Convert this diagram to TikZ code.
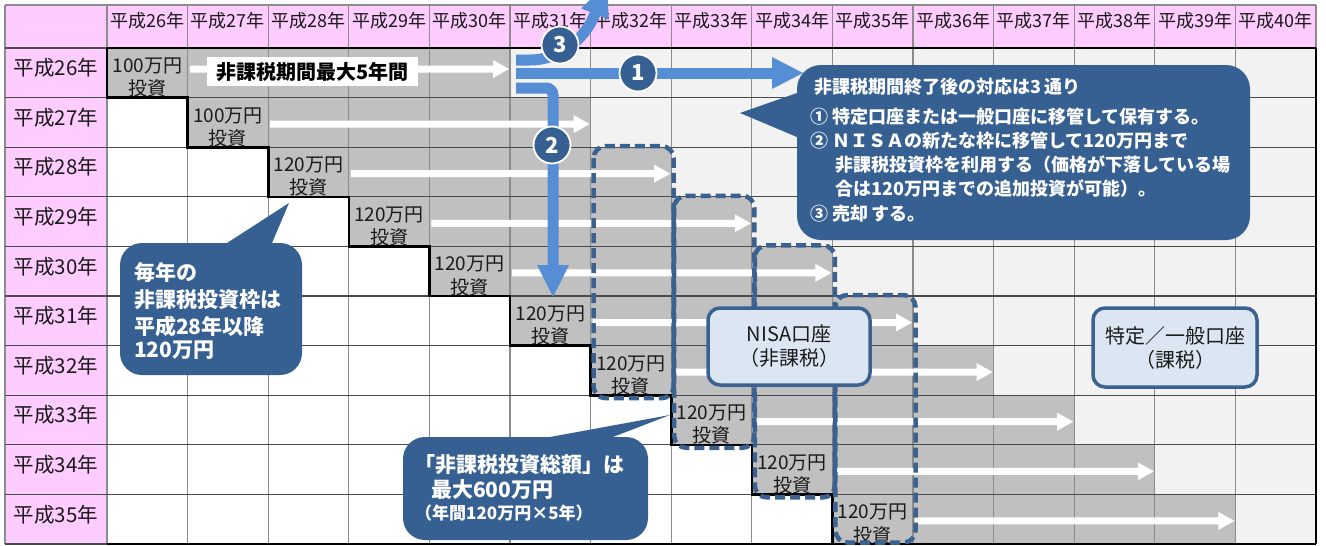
\documentclass[tikz,border=0pt]{standalone}
\usepackage{fontspec}
\setmainfont{Noto Sans CJK JP}
\definecolor{pinkc}{HTML}{FFCCFF}
\definecolor{cellg}{HTML}{C0C0C0}
\definecolor{lightg}{HTML}{F2F2F2}
\definecolor{callcol}{HTML}{376092}
\definecolor{arrowb}{HTML}{558ED5}
\definecolor{dashb}{HTML}{3A6190}
\definecolor{boxfill}{HTML}{DCE6F2}
\definecolor{gridv}{HTML}{8C8C8C}
\definecolor{gridh}{HTML}{4A4A4A}
\definecolor{txtc}{HTML}{1A1A1A}
\newcommand\warrow[3]{%
  \fill[white] ({#1},{#3-3.5}) -- ({#2-16},{#3-3.5}) -- ({#2-16},{#3-9}) -- ({#2},{#3}) -- ({#2-16},{#3+9}) -- ({#2-16},{#3+3.5}) -- ({#1},{#3+3.5}) -- cycle;}
\tikzset{
  hdr/.style={inner sep=0pt, font=\fontsize{18}{20}\selectfont, text=txtc},
  rowlab/.style={inner sep=0pt, font=\fontsize{20.5}{22}\selectfont, text=txtc},
  inv/.style={inner sep=0pt, font=\fontsize{19}{20}\selectfont, text=txtc},
  vline/.style={draw=gridv, line width=1.1pt},
  hline/.style={draw=gridh, line width=1.3pt},
  thickl/.style={draw=black, line width=2.6pt},
  dbox/.style={draw=dashb, line width=4.5pt, dash pattern=on 10pt off 5pt, rounded corners=12pt},
  acct/.style={draw=dashb, line width=3.5pt, fill=boxfill, rounded corners=12pt, inner sep=0pt, align=center, text=txtc, font=\fontsize{20}{24}\selectfont},
  bshaft/.style={draw=arrowb, line width=11pt},
  bhead/.style={fill=arrowb},
  numc/.style={circle, fill=callcol, draw=white, line width=1.8pt, minimum size=37pt, inner sep=0pt, text=white, font=\bfseries\fontsize{22}{24}\selectfont},
  ctext/.style={inner sep=0pt, anchor=west, text=white, font=\bfseries\fontsize{18}{20}\selectfont},
  ltext/.style={inner sep=0pt, anchor=west, text=white, font=\bfseries\fontsize{21}{22}\selectfont},
  btext/.style={inner sep=0pt, anchor=west, text=white, font=\bfseries\fontsize{21}{23}\selectfont},
  bstext/.style={inner sep=0pt, anchor=west, text=white, font=\bfseries\fontsize{17}{20}\selectfont},
}
\begin{document}
\begin{tikzpicture}[x=1pt,y=-1pt]
\useasboundingbox (0,0) rectangle (1326,546);
\clip (0,0) rectangle (1326,546);
\fill[white] (0,0) rectangle (1326,546);
% pink header areas
\fill[pinkc] (5,5) rectangle (1316,48);
\fill[pinkc] (5,48) rectangle (107,544);
% cells
\foreach \j in {0,...,9}{
  \foreach \k in {0,...,14}{
    \pgfmathsetmacro\xa{107+\k*80.6}
    \pgfmathsetmacro\ya{48+\j*49.6}
    \ifnum\k<\j \def\cc{white}\else\ifnum\k>\numexpr\j+4\relax \def\cc{lightg}\else\def\cc{cellg}\fi\fi
    \fill[\cc] (\xa,\ya) rectangle ++(80.6,49.6);
  }
}
% grid lines
\foreach \k in {0,...,15}{
  \pgfmathsetmacro\xa{107+\k*80.6}
  \draw[vline] (\xa,5) -- (\xa,544);
}
\draw[vline] (5,5) -- (5,544);
\draw[vline] (5,5) -- (1316,5);
\foreach \j in {0,...,10}{
  \pgfmathsetmacro\ya{48+\j*49.6}
  \draw[hline] (5,\ya) -- (1316,\ya);
}
% thick borders
\draw[thickl] (107,48) -- (1316,48);
\draw[thickl] (1316,48) -- (1316,544);
\draw[thickl] (107,544) -- (1316,544);
\draw[thickl] (107,48) -- (107,97.6) -- (187.6,97.6) -- (187.6,147.2) -- (268.2,147.2) -- (268.2,196.8) -- (348.8,196.8) -- (348.8,246.4) -- (429.4,246.4) -- (429.4,296) -- (510,296) -- (510,345.6) -- (590.6,345.6) -- (590.6,395.2) -- (671.2,395.2) -- (671.2,444.8) -- (751.8,444.8) -- (751.8,494.4) -- (832.4,494.4) -- (832.4,544);
% header labels
\foreach \k in {0,...,14}{
  \pgfmathsetmacro\xc{147.3+\k*80.6}
  \pgfmathtruncatemacro\yr{26+\k}
  \node[hdr] (h\k) at (\xc,21) {平成\yr{}年};
}
% row labels and investment cells
\foreach \j in {0,...,9}{
  \pgfmathsetmacro\yl{48+\j*49.6+20}
  \pgfmathtruncatemacro\yr{26+\j}
  \node[rowlab] (r\j) at (56,\yl) {平成\yr{}年};
  \pgfmathsetmacro\xc{147.3+\j*80.6}
  \pgfmathsetmacro\ya{48+\j*49.6+18}
  \pgfmathsetmacro\yb{48+\j*49.6+40.5}
  \ifnum\j<2 \def\amt{100}\else\def\amt{120}\fi
  \node[inv] (ia\j) at (\xc,\ya) {\amt 万円};
  \node[inv] (ib\j) at (\xc,\yb) {投資};
}
% white arrows
\warrow{190}{509}{69}
\foreach \j in {1,...,9}{
  \pgfmathsetmacro\xs{107+(\j+1)*80.6+2}
  \pgfmathsetmacro\xt{107+(\j+5)*80.6-1}
  \pgfmathsetmacro\yy{48+\j*49.6+26.5}
  \warrow{\xs}{\xt}{\yy}
}
\node[fill=white, minimum width=211pt, minimum height=29pt, inner sep=0pt, text=black, font=\bfseries\fontsize{20}{22}\selectfont] (lbl) at (312.5,71.5) {非課税期間最大5年間};
% dashed NISA frames
\draw[dbox] (593.6,146.2) rectangle (673.7,398.2);
\draw[dbox] (674.2,195.8) rectangle (754.3,447.8);
\draw[dbox] (754.8,245.4) rectangle (834.9,497.4);
\draw[dbox] (835.4,295) rectangle (915.5,542.5);
% account boxes
\node[acct, minimum width=162pt, minimum height=77pt] (nisa) at (789,346.5) {NISA口座\\（非課税）};
\node[acct, minimum width=164pt, minimum height=79pt] (toku) at (1175,347.5) {特定／一般口座\\（課税）};
% blue arrows
\coordinate (a1s) at (516,73);
\coordinate (a1e) at (772,73);
\draw[bshaft] (a1s) -- (a1e);
\fill[bhead] (772,57) -- (803,73) -- (772,89) -- cycle;
\coordinate (a2s) at (516,88);
\coordinate (a2k) at (553,88);
\coordinate (a2e) at (553,266);
\draw[bshaft, rounded corners=7pt] (a2s) -- (a2k) -- (a2e);
\fill[bhead] (537,265) -- (553,297) -- (569,265) -- cycle;
\coordinate (a3s) at (516,60);
\coordinate (a3m) at (530,60);
\coordinate (a3e) at (595,14);
\draw[bshaft] (a3s) -- (a3m) .. controls (562,60) and (585.7,37) .. (a3e);
\fill[bhead] (581.1,8.4) -- (606.8,-15.8) -- (608.9,19.6) -- cycle;
\node[numc] (n1) at (638,73) {1};
\node[numc] (n2) at (552,145) {2};
\node[numc] (n3) at (560,45) {3};
% big callout
\fill[callcol, rounded corners=24pt] (797,65) rectangle (1250,240);
\fill[callcol] (805,90.2) -- (740,113) -- (805,140.4) -- cycle;
\node[ctext] (c1) at (814,87) {非課税期間終了後の対応は3\,通り};
\node[ctext] (c2) at (810,117) {① 特定口座または一般口座に移管して保有する。};
\node[ctext] (c3) at (810,140.5) {② ＮＩＳＡの新たな枠に移管して120万円まで};
\node[ctext] (c4) at (835,165) {非課税投資枠を利用する（価格が下落している場};
\node[ctext] (c5) at (835,189) {合は120万円までの追加投資が可能）。};
\node[ctext] (c6) at (810,214) {③ 売却\,する。};
% left callout
\fill[callcol, rounded corners=22pt] (120,243) rectangle (302,375);
\fill[callcol] (219.3,248) -- (289,203) -- (269.9,248) -- cycle;
\node[ltext] (l1) at (134,273) {毎年の};
\node[ltext] (l2) at (134,300) {非課税投資枠は};
\node[ltext] (l3) at (134,326) {平成28年以降};
\node[ltext] (l4) at (134,350) {120万円};
% bottom callout
\fill[callcol, rounded corners=22pt] (403,437) rectangle (648,540);
\fill[callcol] (522.7,442) -- (670,415) -- (600,442) -- cycle;
\node[btext] (b1) at (414,465) {「非課税投資総額」は};
\node[btext] (b2) at (431,490) {最大600万円};
\node[bstext] (b3) at (415,513) {（年間120万円×5年）};
\end{tikzpicture}
\end{document}
